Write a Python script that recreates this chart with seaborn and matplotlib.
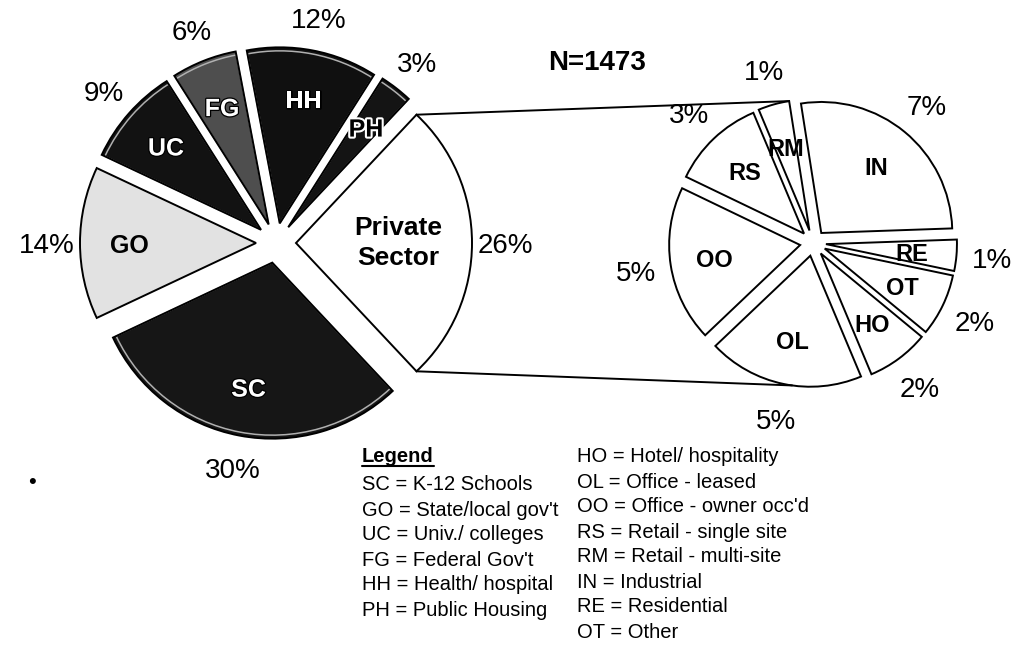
import matplotlib
matplotlib.use("Agg")
import matplotlib.pyplot as plt
import matplotlib.patheffects as pe
import numpy as np
import seaborn as sns

# ==========================================
# DATA
# ==========================================
left_codes = ["Private\nSector", "PH", "HH", "FG", "UC", "GO", "SC"]
left_values = [26, 3, 12, 6, 9, 14, 30]
left_colors = ["#ffffff", "#141414", "#101010", "#4e4e4e", "#121212", "#e2e2e2", "#161616"]
hollow_codes = ["HH", "FG", "UC", "SC"]
dark_codes = ["PH", "HH", "FG", "UC", "SC"]

right_codes = ["IN", "RM", "RS", "OO", "OL", "HO", "OT", "RE"]
right_values = [7, 1, 3, 5, 5, 2, 2, 1]

legend_public = ["SC = K-12 Schools", "GO = State/local gov't", "UC = Univ./ colleges",
                 "FG = Federal Gov't", "HH = Health/ hospital", "PH = Public Housing"]
legend_private = ["HO = Hotel/ hospitality", "OL = Office - leased", "OO = Office - owner occ'd",
                  "RS = Retail - single site", "RM = Retail - multi-site", "IN = Industrial",
                  "RE = Residential", "OT = Other"]
sample_size = 1473

# ==========================================
# STYLE
# ==========================================
sns.set_theme(style="white")
plt.rcParams['font.family'] = ['Liberation Sans', 'DejaVu Sans']
plt.rcParams['text.color'] = 'black'

W, H = 1015, 671
fig = plt.figure(figsize=(W / 100, H / 100), dpi=100)
ax = fig.add_axes([0, 0, 1, 1])


def point_on(w, angle, frac=1.0):
    a = np.deg2rad(angle)
    return (w.center[0] + frac * w.r * np.cos(a), w.center[1] + frac * w.r * np.sin(a))


# ---- left pie: all sectors ----
L_CENTER, L_R, L_EXP = (276, H - 243), 176, 20
L_START = -left_values[0] / sum(left_values) * 180

code_iter = iter(left_codes)
lw_, lt_, lat_ = ax.pie(
    left_values, colors=left_colors, center=L_CENTER, radius=L_R,
    explode=[L_EXP] * len(left_values), startangle=L_START,
    labels=[f"{v}%" for v in left_values], labeldistance=1.19,
    autopct=lambda p: next(code_iter), pctdistance=0.72,
    wedgeprops=dict(linewidth=0), textprops=dict(fontsize=20), frame=False)

# light inner rim on the dark wedges
ax.pie(left_values, center=L_CENTER, radius=L_R - 3.5,
       explode=[L_EXP] * len(left_values), startangle=L_START,
       wedgeprops=dict(facecolor='none', linewidth=1.1, zorder=1.5), frame=False,
       colors=['none'] * len(left_values))
rim = [w for w in ax.patches[-len(left_values):]]
for code, w in zip(left_codes, rim):
    w.set_edgecolor('#b0b0b0' if code in dark_codes else 'none')

# black outlines on top
ax.pie(left_values, center=L_CENTER, radius=L_R,
       explode=[L_EXP] * len(left_values), startangle=L_START,
       wedgeprops=dict(facecolor='none', edgecolor='black', linewidth=1.4, zorder=1.8),
       frame=False)

for t in lt_:
    t.set_ha('center'); t.set_va('center_baseline')

for code, t, w in zip(left_codes, lat_, lw_):
    t.set_fontsize(18); t.set_fontweight('bold'); t.set_va('center_baseline')
    if code in hollow_codes:
        t.set_color('white')
        t.set_path_effects([pe.withStroke(linewidth=1.8, foreground='black')])
    elif code == "PH":
        t.set_path_effects([pe.withStroke(linewidth=3, foreground='white')])
    elif code.startswith("Private"):
        t.set_fontsize(19)
        t.set_linespacing(1.3)
        t.set_va('center')
        t.set_position(point_on(w, (w.theta1 + w.theta2) / 2, 0.58))

# ---- right pie: private sector breakdown ----
code_iter_r = iter(right_codes)
rw_, rt_, rat_ = ax.pie(
    right_values, colors=['white'] * len(right_values), center=(813, H - 243), radius=131,
    explode=[13] * len(right_values), startangle=2,
    labels=[f"{v}%" for v in right_values], labeldistance=1.27,
    autopct=lambda p: next(code_iter_r), pctdistance=0.66,
    wedgeprops=dict(edgecolor='black', linewidth=1.4), textprops=dict(fontsize=20), frame=False)

for t in rt_:
    t.set_ha('center'); t.set_va('center_baseline')
for t in rat_:
    t.set_fontsize(17); t.set_fontweight('bold'); t.set_va('center_baseline')

# ---- connector lines ----
ps = lw_[0]
top_a = point_on(ps, ps.theta2)
bot_a = point_on(ps, ps.theta1)
top_b = point_on(rw_[1], rw_[1].theta1)
bot_b = point_on(rw_[4], 262)
ax.plot([top_a[0], top_b[0]], [top_a[1], top_b[1]], color='black', lw=1.4)
ax.plot([bot_a[0], bot_b[0]], [bot_a[1], bot_b[1]], color='black', lw=1.4)

# ---- titles / legend ----
ax.text(597, H - 60, f"N={sample_size}", fontsize=20, fontweight='bold',
        ha='center', va='center_baseline')

leg_title = ax.text(362, H - 455, "Legend", fontsize=14.5, fontweight='bold',
                    ha='left', va='center_baseline')
for i, s in enumerate(legend_public):
    ax.text(362, H - 483 - 25 * i, s, fontsize=14.5, ha='left', va='center_baseline')
for i, s in enumerate(legend_private):
    ax.text(577, H - 455 - 25 * i, s, fontsize=14.5, ha='left', va='center_baseline')
ax.text(32, H - 483, "\u2022", fontsize=16, ha='center', va='center')

ax.set_xlim(0, W)
ax.set_ylim(0, H)
ax.set_aspect('equal')
ax.axis('off')

fig.canvas.draw()
bb = leg_title.get_window_extent().transformed(ax.transData.inverted())
ax.plot([bb.x0, bb.x1], [bb.y0 + 1, bb.y0 + 1], color='black', lw=1.5)

fig.savefig("out.png", dpi=100)
